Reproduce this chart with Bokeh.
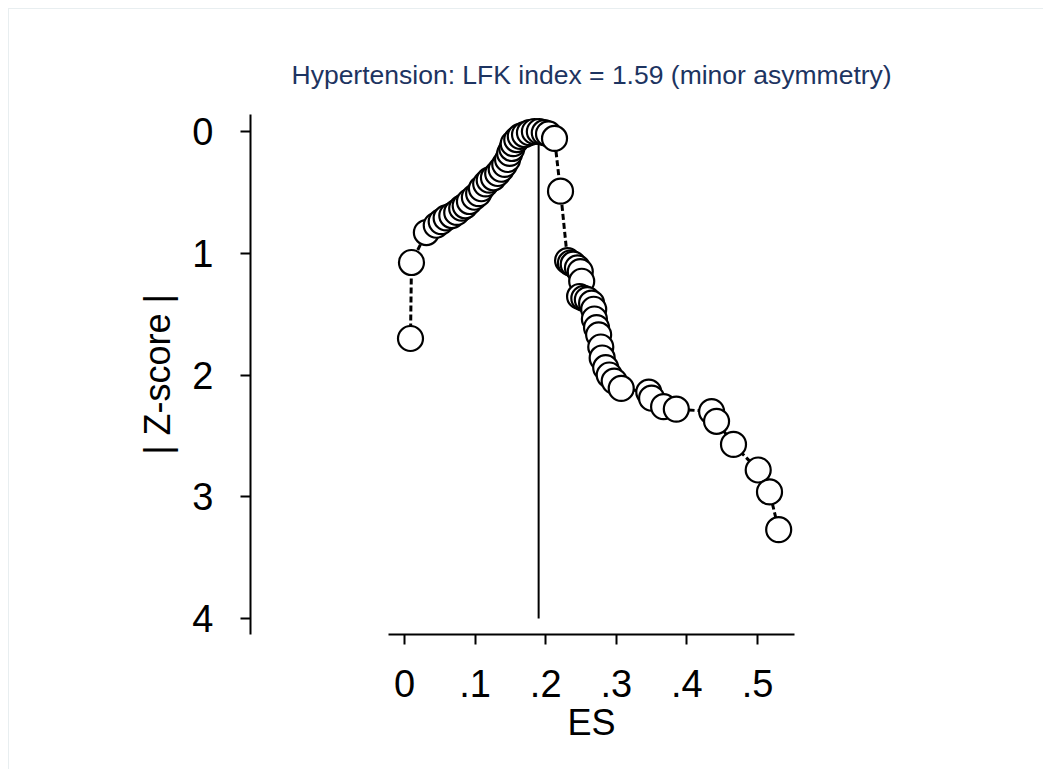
from bokeh.plotting import figure
from bokeh.models import Range1d, Title, FixedTicker
from bokeh.embed import file_html
from bokeh.resources import INLINE

# Effect sizes (ES) and absolute Z-scores of the studies, ordered along the curve
es = [0.0085, 0.0099, 0.031, 0.045, 0.052, 0.059, 0.067, 0.074, 0.081, 0.086,
      0.092, 0.099, 0.105, 0.109, 0.115, 0.120, 0.126, 0.132, 0.137, 0.142,
      0.146, 0.149, 0.152, 0.154, 0.159, 0.164, 0.170, 0.177, 0.184, 0.191,
      0.198, 0.204, 0.2125, 0.221, 0.231, 0.235, 0.239, 0.245, 0.249, 0.251,
      0.248, 0.254, 0.259, 0.265, 0.268, 0.269, 0.272, 0.275, 0.278, 0.280,
      0.285, 0.290, 0.297, 0.307, 0.346, 0.350, 0.367, 0.385, 0.435, 0.442,
      0.466, 0.501, 0.517, 0.530]
zscore = [1.70, 1.076, 0.83, 0.77, 0.74, 0.71, 0.69, 0.665, 0.63, 0.61,
          0.575, 0.54, 0.51, 0.47, 0.43, 0.40, 0.38, 0.345, 0.31, 0.27,
          0.23, 0.18, 0.14, 0.10, 0.066, 0.04, 0.025, 0.01, 0.0, 0.0,
          0.01, 0.02, 0.057, 0.49, 1.06, 1.08, 1.09, 1.12, 1.15, 1.23,
          1.355, 1.37, 1.38, 1.41, 1.46, 1.54, 1.61, 1.67, 1.77, 1.86,
          1.94, 2.0, 2.05, 2.11, 2.14, 2.19, 2.26, 2.28, 2.30, 2.38,
          2.57, 2.78, 2.96, 3.27]

es_ref = 0.19  # ES at the minimum |Z-score|
x_ticks = [0, 0.1, 0.2, 0.3, 0.4, 0.5]
x_tick_labels = ["0", ".1", ".2", ".3", ".4", ".5"]
y_ticks = [0, 1, 2, 3, 4]

title_text = "Hypertension: LFK index = 1.59 (minor asymmetry)"
FONT = "Liberation Sans"

p = figure(width=1035, height=761,
           x_range=Range1d(-0.2181, 0.5524),
           y_range=Range1d(4.131, -0.1396),
           output_backend="svg", toolbar_location=None,
           min_border_left=241, min_border_right=250,
           min_border_top=105, min_border_bottom=136,
           margin=(8, 8, 0, 8))
p.styles = {"border-top": "1px solid #e8eef0", "border-left": "1px solid #e8eef0"}
p.outline_line_color = None
p.xgrid.visible = False
p.ygrid.visible = False
p.background_fill_color = "white"
p.border_fill_color = "white"

# title above the plot, shifted over the drawn ES axis
p.title.text = title_text
p.title.align = "left"
p.title.offset = 41
p.title.text_font = FONT
p.title.text_font_size = "26.5px"
p.title.text_font_style = "normal"
p.title.text_color = "#1d3461"
p.title.standoff = 50

# axes
xa = p.xaxis[0]
xa.ticker = FixedTicker(ticks=x_ticks)
xa.major_label_overrides = {t: s for t, s in zip(x_ticks, x_tick_labels)}
xa.bounds = (-0.0227, 0.5524)
ya = p.yaxis[0]
ya.ticker = FixedTicker(ticks=y_ticks)
ya.axis_label = "| Z-score |"
ya.axis_label_text_font = FONT
ya.axis_label_text_font_size = "36px"
ya.axis_label_text_font_style = "normal"
ya.axis_label_text_color = "black"
ya.axis_label_standoff = 11
ya.major_label_orientation = "horizontal"

for ax in (xa, ya):
    ax.axis_line_color = "black"
    ax.axis_line_width = 2
    ax.major_tick_line_color = "black"
    ax.major_tick_line_width = 2
    ax.major_tick_out = 10
    ax.major_tick_in = 0
    ax.minor_tick_line_color = None
    ax.major_label_text_font = FONT
    ax.major_label_text_font_size = "38px"
    ax.major_label_text_color = "black"
xa.major_label_standoff = 25
ya.major_label_standoff = 27

# x-axis title under the drawn ES axis
p.add_layout(Title(text="ES", align="left", offset=317, text_font=FONT,
                   text_font_size="36px", text_font_style="normal",
                   text_color="black", standoff=0), "below")

# reference line at the most precise effect size
p.segment(x0=[es_ref], y0=[0], x1=[es_ref], y1=[4], line_color="black", line_width=2)

# dashed connector, then the study markers on top
p.line(es, zscore, line_color="black", line_width=3, line_dash="6 3")
p.scatter(es, zscore, size=25, marker="circle", fill_color="white",
          line_color="black", line_width=2.2)

open("out.html", "w").write(file_html(p, INLINE))
